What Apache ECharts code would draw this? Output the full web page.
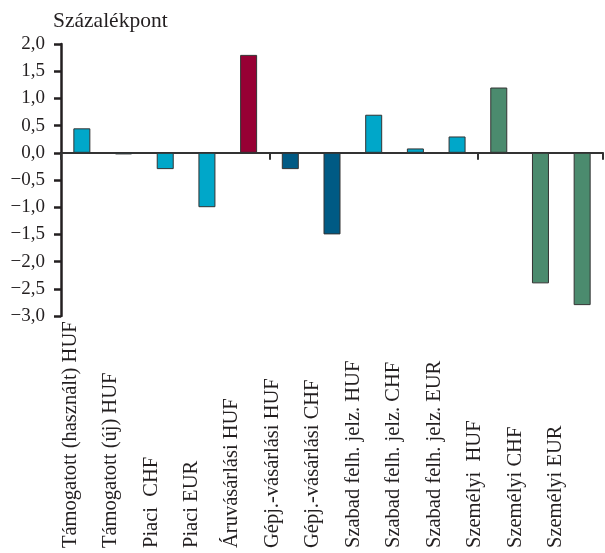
<!DOCTYPE html>
<html>
<head>
<meta charset="utf-8">
<script src="https://cdn.jsdelivr.net/npm/echarts@6/dist/echarts.min.js"></script>
<style>
  html, body { margin: 0; padding: 0; background: #fff; }
  #chart { width: 605px; height: 553px; }
</style>
</head>
<body>
<div id="chart"></div>
<script>
var categories = [
  "Támogatott (használt) HUF",
  "Támogatott (új) HUF",
  "Piaci  CHF",
  "Piaci EUR",
  "Áruvásárlási HUF",
  "Gépj.-vásárlási HUF",
  "Gépj.-vásárlási CHF",
  "Szabad felh. jelz. HUF",
  "Szabad felh. jelz. CHF",
  "Szabad felh. jelz. EUR",
  "Személyi  HUF",
  "Személyi CHF",
  "Személyi EUR"
];
var values = [0.45, -0.03, -0.3, -1.0, 1.8, -0.3, -1.5, 0.7, 0.08, 0.3, 1.2, -2.4, -2.8];
var groups = ["lakas", "lakas", "lakas", "lakas", "aru", "gepj", "gepj", "szabad", "szabad", "szabad", "szemelyi", "szemelyi", "szemelyi"];
var yTicks = [-3, -2.5, -2, -1.5, -1, -0.5, 0, 0.5, 1, 1.5, 2];

var groupColors = {
  lakas: "#00a7c9",
  aru: "#970034",
  gepj: "#005a84",
  szabad: "#00a7c9",
  szemelyi: "#4b8b6e"
};

var font = "'Liberation Serif', 'Times New Roman', serif";

function fmt(v) {
  return v.toFixed(1).replace(".", ",").replace("-", "\u2212");
}

var chart = echarts.init(document.getElementById("chart"));

var option = {
  animation: false,
  title: {
    text: "Százalékpont",
    left: 48,
    top: 5,
    textStyle: { fontFamily: font, fontSize: 21.5, fontWeight: "normal", color: "#231f20" }
  },
  grid: [
    { left: 61, right: 2, top: 44, bottom: 237 },
    { left: 50, right: 29, top: 320, bottom: 5 }
  ],
  xAxis: [
    {
      type: "category",
      gridIndex: 0,
      data: categories,
      axisLine: { onZero: true, lineStyle: { color: "#333", width: 2 } },
      axisTick: { show: true, length: 7, lineStyle: { color: "#333", width: 2 } },
      axisLabel: { show: false }
    },
    {
      type: "category",
      gridIndex: 1,
      position: "bottom",
      data: categories,
      axisLine: { show: false },
      axisTick: { show: false },
      axisLabel: {
        interval: 0,
        rotate: 90,
        align: "left",
        verticalAlign: "middle",
        margin: 0,
        fontFamily: font,
        fontSize: 20.5,
        color: "#231f20"
      }
    }
  ],
  yAxis: [
    {
      type: "value",
      gridIndex: 0,
      min: yTicks[0],
      max: yTicks[yTicks.length - 1],
      interval: 0.5,
      splitLine: { show: false },
      axisLine: { show: true, lineStyle: { color: "#231f20", width: 2.5 } },
      axisTick: { show: true, length: 7, lineStyle: { color: "#231f20", width: 2.5 } },
      axisLabel: {
        margin: 16,
        fontFamily: font,
        fontSize: 19,
        color: "#231f20",
        formatter: fmt
      }
    },
    { type: "value", gridIndex: 1, show: false }
  ],
  series: [
    {
      type: "bar",
      xAxisIndex: 0,
      yAxisIndex: 0,
      barWidth: 17,
      data: values,
      itemStyle: {
        borderColor: "#333",
        borderWidth: 1,
        color: function (p) {
          return groupColors[groups[p.dataIndex]];
        }
      }
    }
  ]
};

chart.setOption(option);
</script>
</body>
</html>
